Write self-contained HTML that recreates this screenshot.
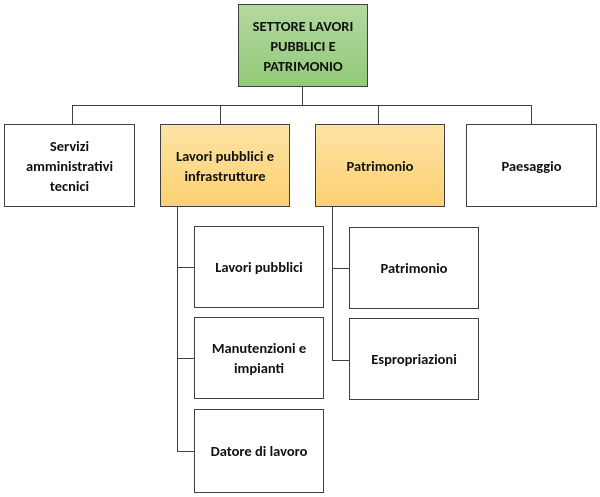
<!DOCTYPE html>
<html><head><meta charset="utf-8"><style>
body{margin:0;width:600px;height:497px;background:#fff;position:relative;overflow:hidden;font-family:Carlito,"Liberation Sans",sans-serif;}
.b{position:absolute;box-sizing:border-box;border:1px solid #404040;background:#fff;display:flex;align-items:center;justify-content:center;text-align:center;font-weight:bold;font-size:14.5px;line-height:20px;color:#111;}
.g{background:linear-gradient(#b3d9a0,#93c97a);}
.o{background:linear-gradient(#fde3a6,#fbd171);}
.l{position:absolute;background:#404040;}
</style></head><body>
<div class="l" style="left:302px;top:87px;width:1px;height:19px"></div>
<div class="l" style="left:72px;top:105px;width:460px;height:1px"></div>
<div class="l" style="left:72px;top:105px;width:1px;height:19px"></div>
<div class="l" style="left:220px;top:105px;width:1px;height:19px"></div>
<div class="l" style="left:378px;top:105px;width:1px;height:19px"></div>
<div class="l" style="left:531px;top:105px;width:1px;height:19px"></div>
<div class="l" style="left:177px;top:207px;width:1px;height:245px"></div>
<div class="l" style="left:177px;top:267px;width:17px;height:1px"></div>
<div class="l" style="left:177px;top:358px;width:17px;height:1px"></div>
<div class="l" style="left:177px;top:451px;width:17px;height:1px"></div>
<div class="l" style="left:332px;top:207px;width:1px;height:154px"></div>
<div class="l" style="left:332px;top:268px;width:17px;height:1px"></div>
<div class="l" style="left:332px;top:360px;width:17px;height:1px"></div>
<div class="b g" style="left:238px;top:4px;width:130px;height:83px">SETTORE LAVORI<br>PUBBLICI E<br>PATRIMONIO</div>
<div class="b" style="left:4px;top:124px;width:131px;height:83px">Servizi<br>amministrativi<br>tecnici</div>
<div class="b o" style="left:160px;top:124px;width:130px;height:83px">Lavori pubblici e<br>infrastrutture</div>
<div class="b o" style="left:315px;top:124px;width:130px;height:83px">Patrimonio</div>
<div class="b" style="left:466px;top:124px;width:131px;height:83px">Paesaggio</div>
<div class="b" style="left:194px;top:226px;width:130px;height:82px">Lavori pubblici</div>
<div class="b" style="left:194px;top:317px;width:130px;height:82px">Manutenzioni e<br>impianti</div>
<div class="b" style="left:194px;top:409px;width:130px;height:84px">Datore di lavoro</div>
<div class="b" style="left:349px;top:227px;width:130px;height:82px">Patrimonio</div>
<div class="b" style="left:349px;top:318px;width:130px;height:82px">Espropriazioni</div>
</body></html>
